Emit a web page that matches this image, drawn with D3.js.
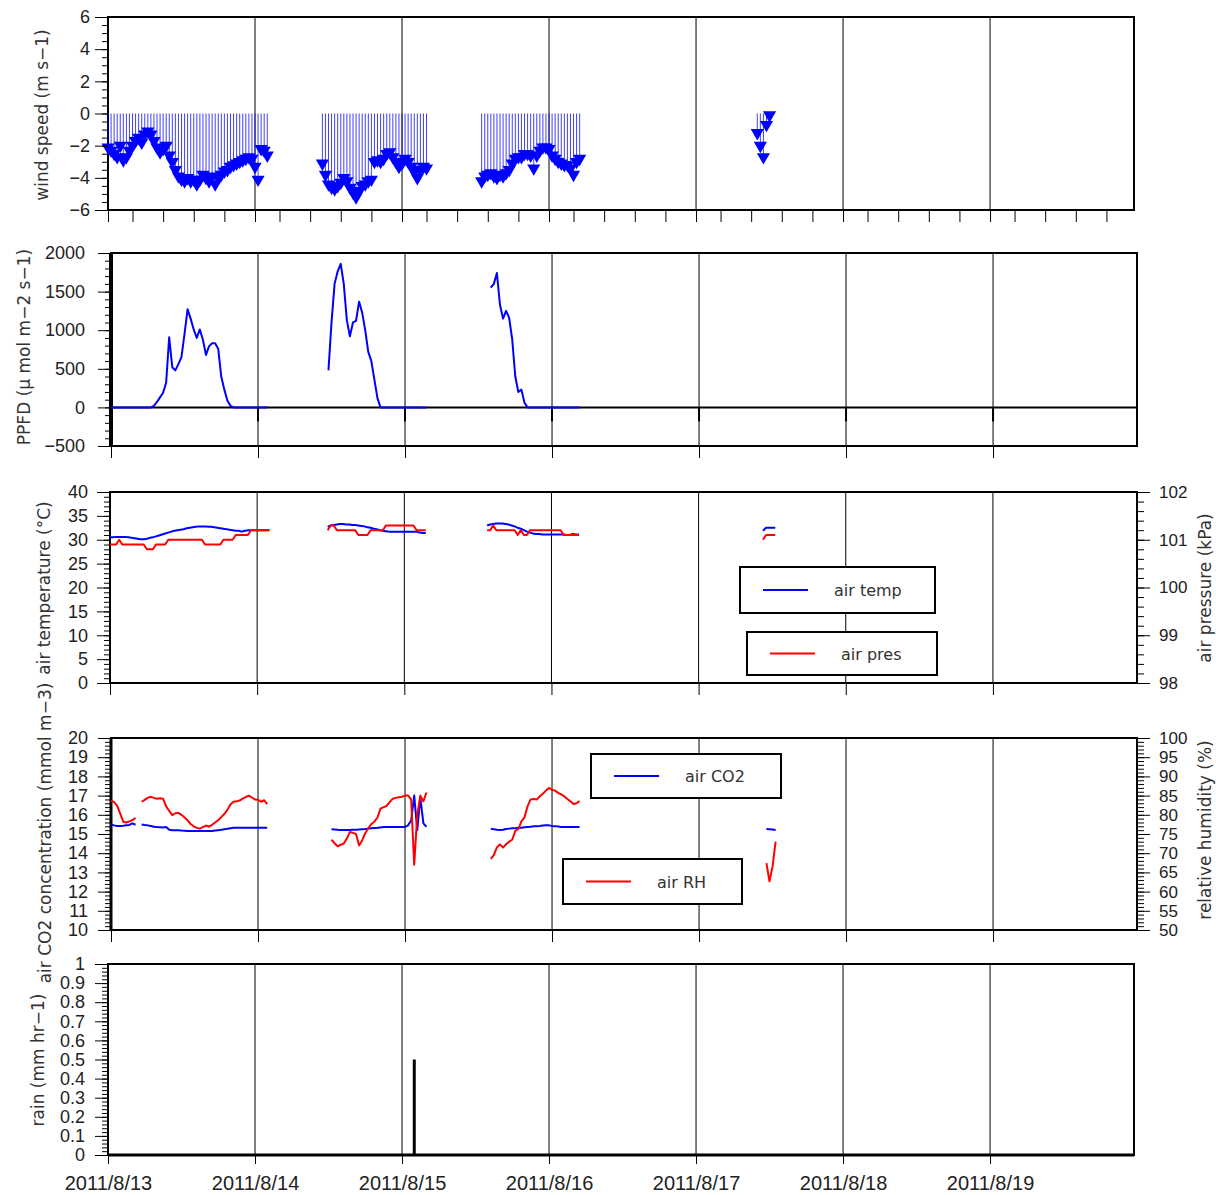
<!DOCTYPE html>
<html lang="en">
<head>
<meta charset="UTF-8">
<title>Weather station 2011/8/13 - 2011/8/19</title>
<script src="https://d3js.org/d3.v7.min.js"></script>
<style>
  body { margin: 0; background: #fff; }
  svg { display: block; font-family: 'DejaVu Sans', sans-serif; }
  .tick text { fill: #222; font-family: 'Liberation Sans', Arial, sans-serif; font-size: 18px; }
  .right-axis .tick text { font-size: 17px; }
  .date-axis .tick text { font-size: 20px; }
  .axis-title { fill: #333; font-size: 17px; }
  .legend text { fill: #333; font-size: 16px; }
</style>
</head>
<body>
<svg id="chart" width="1216" height="1195"></svg>
<script>
// ========================================================================
// Data - 30 minute records, one array per recording block
// ========================================================================
const SEG_START = ["2011-08-13T00:00", "2011-08-14T11:00", "2011-08-15T13:00", "2011-08-17T10:00"];
const STEP_MINUTES = 30;

const windSpeed = [
    [-2.1,-2.3,-2.5,-2.7,-2.0,-2.9,-2.7,-2.3,-2.0,-1.7, -1.5,-1.8,-1.3,-1.1,-1.3,-1.7,-2.1,-2.4,-2.2,-2.0,
     -2.6,-3.0,-3.5,-3.9,-4.1,-4.2,-4.0,-4.2,-4.1,-4.4, -4.1,-3.8,-4.0,-4.2,-3.9,-4.4,-4.0,-3.8,-3.6,-3.5,
     -3.3,-3.2,-3.1,-3.0,-2.9,-2.8,-2.7,-2.8,-3.3,-4.1, -2.2,-2.3,-2.6],
    [-3.1,-3.8,-4.4,-4.6,-4.7,-4.5,-4.3,-4.0,-4.2,-4.6, -4.9,-5.2,-4.8,-4.5,-4.4,-4.2,-4.1,-3.0,-2.9,-3.0,
     -2.8,-2.5,-2.4,-2.7,-3.0,-3.3,-3.1,-2.8,-3.0,-3.3, -3.6,-4.0,-3.5,-3.3,-3.4],
    [-4.2,-3.9,-3.8,-3.7,-3.9,-4.0,-3.8,-3.9,-3.7,-3.5, -3.1,-2.8,-2.7,-2.7,-2.5,-2.5,-2.6,-3.4,-2.6,-2.3,
     -2.1,-2.1,-2.2,-2.6,-2.8,-3.0,-3.1,-3.2,-3.2,-3.4, -3.8,-3.0,-2.8],
    [-1.2,-2.0,-2.7,-0.7,-0.1]
];

const ppfd = [
    [0,0,0,0,0,0,0,0,0,0, 0,0,0,0,20,70,130,190,320,910, 520,480,560,650,950,1270,1150,1010,900,1010,
     880,680,790,830,830,760,400,230,90,20, 0,0,0,0,0,0,0,0,0,0, 0,0],
    [null,480,1100,1600,1760,1860,1600,1130,920,1100, 1120,1370,1230,1000,720,600,360,120,0,0,
     0,0,0,0,0,0,0,0,0,0, 0,0,0,0],
    [null,null,1550,1600,1740,1330,1150,1250,1160,880, 400,200,230,60,0,0,0,0,0,0,
     0,0,0,0,0,0,0,0,0,0, 0,0],
    []
];

const airTemp = [
    [30.5,30.5,30.6,30.6,30.6,30.6,30.5,30.4,30.3,30.2, 30.1,30.1,30.2,30.4,30.5,30.7,30.9,31.1,31.3,31.5,
     31.7,31.9,32.0,32.1,32.2,32.4,32.5,32.6,32.7,32.8, 32.8,32.8,32.7,32.7,32.6,32.5,32.4,32.3,32.2,32.1,
     32.0,31.9,31.9,31.7,31.9,32.0,32.0,32.0,32.0,32.0, 32.0,32.0,32.0],
    [null,32.7,33.0,33.1,33.2,33.3,33.3,33.2,33.2,33.1, 33.1,33.0,32.9,32.8,32.6,32.5,32.3,32.2,32.0,31.9,
     31.8,31.7,31.7,31.7,31.7,31.7,31.7,31.7,31.7,31.7, 31.7,31.5,31.4,31.4],
    [null,33.0,33.2,33.3,33.4,33.4,33.4,33.3,33.2,33.0, 32.8,32.5,32.3,32.0,31.7,31.5,31.3,31.2,31.2,31.1,
     31.1,31.1,31.1,31.1,31.1,31.1,31.1,31.0,31.0,31.2, 31.1,31.1],
    [null,31.9,32.5,32.5,32.5,32.5]
];

const airPres = [
    [100.9,100.9,100.9,101.0,100.9,100.9,100.9,100.9,100.9,100.9, 100.9,100.9,100.8,100.8,100.8,100.9,100.9,100.9,100.9,101.0,
     101.0,101.0,101.0,101.0,101.0,101.0,101.0,101.0,101.0,101.0, 101.0,100.9,100.9,100.9,100.9,100.9,100.9,101.0,101.0,101.0,
     101.0,101.1,101.1,101.1,101.1,101.1,101.2,101.2,101.2,101.2, 101.2,101.2,101.2],
    [null,101.2,101.3,101.3,101.2,101.2,101.2,101.2,101.2,101.2, 101.2,101.1,101.1,101.1,101.1,101.2,101.2,101.2,101.2,101.2,
     101.3,101.3,101.3,101.3,101.3,101.3,101.3,101.3,101.3,101.3, 101.2,101.2,101.2,101.2],
    [null,101.2,101.2,101.3,101.2,101.2,101.2,101.2,101.2,101.2, 101.2,101.1,101.2,101.1,101.1,101.2,101.2,101.2,101.2,101.2,
     101.2,101.2,101.2,101.2,101.2,101.2,101.1,101.1,101.1,101.1, 101.1,101.1],
    [null,101.0,101.1,101.1,101.1,101.1]
];

const airCO2 = [
    [15.5,15.45,15.42,15.42,15.43,15.45,15.47,15.55,15.48,null, 15.5,15.47,15.45,15.42,15.38,15.36,15.35,15.34,15.36,15.22,
     15.2,15.2,15.2,15.18,15.17,15.16,15.16,15.16,15.16,15.16, 15.16,15.16,15.16,15.16,15.18,15.2,15.22,15.25,15.27,15.3,
     15.32,15.32,15.32,15.32,15.32,15.32,15.32,15.32,15.32,15.32, 15.32,15.32],
    [null,null,15.25,15.24,15.22,15.21,15.21,15.21,15.21,15.22, 15.22,15.24,15.25,15.26,15.28,15.3,15.31,15.32,15.34,15.36,
     15.36,15.36,15.36,15.36,15.36,15.36,15.37,15.45,15.7,17.0, 15.2,16.9,15.55,15.38],
    [null,null,15.27,15.25,15.22,15.21,15.22,15.26,15.28,15.3, 15.3,15.32,15.33,15.35,15.37,15.38,15.4,15.41,15.42,15.44,
     15.45,15.45,15.42,15.41,15.39,15.37,15.36,15.36,15.36,15.36, 15.36,15.36],
    [null,null,15.26,15.25,15.23,15.21]
];

const airRH = [
    [83.7,83.3,82.4,80.3,78.2,78.0,78.3,78.6,79.2,null, 83.4,83.9,84.4,84.7,84.4,84.2,84.3,84.2,82.2,81.0,
     79.9,80.4,80.5,80.0,79.3,78.6,77.6,77.0,76.6,76.4, 76.8,77.2,76.9,77.4,78.0,78.6,79.4,80.2,81.3,82.7,
     83.4,83.5,83.7,84.2,84.6,85.0,84.5,84.0,83.9,83.4, 83.8,82.8],
    [null,null,73.5,72.6,71.8,72.2,72.5,73.8,75.5,75.3, 75.0,72.0,73.3,75.2,76.5,77.6,78.2,79.3,81.6,82.0,
     82.3,83.3,84.2,84.4,84.6,84.7,85.0,85.0,84.0,67.0, 80.0,85.0,83.5,85.8],
    [null,null,68.5,69.5,71.5,72.3,71.5,72.3,73.0,73.5, 75.8,76.3,78.3,79.3,82.2,84.0,84.1,84.0,84.8,85.5,
     86.3,87.0,86.5,86.3,85.7,85.3,84.8,84.1,83.5,82.8, 83.0,83.6],
    [null,null,67.4,62.7,66.5,73.0]
];

const rainTimes = ["2011-08-15T02:00"];
const rainValues = [0.5];

// ========================================================================
// Tick labels
// ========================================================================
const windTicks = [-6, -4, -2, 0, 2, 4, 6];
const ppfdTicks = [-500, 0, 500, 1000, 1500, 2000];
const tempTicks = [0, 5, 10, 15, 20, 25, 30, 35, 40];
const presTicks = [98, 99, 100, 101, 102];
const co2Ticks = [10, 11, 12, 13, 14, 15, 16, 17, 18, 19, 20];
const rhTicks = [50, 55, 60, 65, 70, 75, 80, 85, 90, 95, 100];
const rainTicks = [0, 0.1, 0.2, 0.3, 0.4, 0.5, 0.6, 0.7, 0.8, 0.9, 1];
const dateTicks = ["2011-08-13", "2011-08-14", "2011-08-15", "2011-08-16", "2011-08-17", "2011-08-18", "2011-08-19"];

// ========================================================================
// Layout
// ========================================================================
const BOX = {
    wind: { left: 108, right: 1134, top: 17, bottom: 210 },
    ppfd: { left: 111, right: 1137, top: 253, bottom: 446 },
    temp: { left: 110, right: 1137, top: 492, bottom: 683 },
    co2:  { left: 111, right: 1137, top: 738, bottom: 930 },
    rain: { left: 108, right: 1134, top: 964, bottom: 1155 }
};
const BLUE = "#0000ff";
const RED = "#ff0000";

// ========================================================================
// Helpers
// ========================================================================
const parseTime = d3.timeParse("%Y-%m-%dT%H:%M");
const parseDay = d3.timeParse("%Y-%m-%d");
const X_DOMAIN = [parseTime("2011-08-13T00:00"), parseTime("2011-08-19T23:30")];
const DAYS = dateTicks.map(parseDay);
const fmtNum = d3.format("~g");
const fmtDate = d3.timeFormat("%Y/%-m/%-d");

const toSegments = (segs) => segs.map((vals, s) => {
    const t0 = parseTime(SEG_START[s]);
    return vals.map((v, i) => ({ t: d3.timeMinute.offset(t0, i * STEP_MINUTES), v }));
});

const svg = d3.select("#chart");

const makePanel = (box) => {
    const x = d3.scaleTime().domain(X_DOMAIN).range([box.left, box.right]);
    const g = svg.append("g");
    return { g, x, box };
};

const drawGrid = (p) => {
    p.g.append("g").selectAll("line").data(DAYS.slice(1)).join("line")
        .attr("x1", d => p.x(d)).attr("x2", d => p.x(d))
        .attr("y1", p.box.top).attr("y2", p.box.bottom)
        .attr("stroke", "#000").attr("stroke-width", 1);
};

const drawFrame = (p) => {
    p.g.append("rect")
        .attr("x", p.box.left).attr("y", p.box.top)
        .attr("width", p.box.right - p.box.left).attr("height", p.box.bottom - p.box.top)
        .attr("fill", "none").attr("stroke", "#000").attr("stroke-width", 2);
};

const cleanAxis = (sel) => {
    sel.select(".domain").remove();
    sel.selectAll(".tick line").attr("stroke", "#000");
};

const drawYAxis = (p, scale, side, majors, minorStep, padding) => {
    const axisFn = side === "left" ? d3.axisLeft : d3.axisRight;
    const xPos = side === "left" ? p.box.left : p.box.right;
    const [lo, hi] = scale.domain();
    const minors = d3.range(Math.round((hi - lo) / minorStep) + 1).map(i => lo + i * minorStep);
    p.g.append("g").attr("transform", `translate(${xPos},0)`)
        .call(axisFn(scale).tickValues(minors).tickSize(side === "left" ? 6 : 7).tickFormat(""))
        .call(cleanAxis);
    p.g.append("g").attr("class", side === "right" ? "right-axis" : null)
        .attr("transform", `translate(${xPos},0)`)
        .call(axisFn(scale).tickValues(majors).tickSize(13).tickPadding(padding).tickFormat(fmtNum))
        .call(cleanAxis);
};

const drawXTicks = (p, values, size, withLabels) => {
    const axis = d3.axisBottom(p.x).tickValues(values).tickSize(size)
        .tickFormat(withLabels ? fmtDate : "").tickPadding(12);
    p.g.append("g").attr("class", withLabels ? "date-axis" : null)
        .attr("transform", `translate(0,${p.box.bottom})`)
        .call(axis).call(cleanAxis);
};

const drawTitle = (x, y, text) => {
    svg.append("text").attr("class", "axis-title")
        .attr("transform", `translate(${x},${y}) rotate(-90)`)
        .attr("text-anchor", "middle").text(text);
};

const drawLines = (p, y, segs, color) => {
    const line = d3.line().defined(d => d.v != null).x(d => p.x(d.t)).y(d => y(d.v));
    p.g.append("g").selectAll("path").data(toSegments(segs)).join("path")
        .attr("d", line).attr("fill", "none")
        .attr("stroke", color).attr("stroke-width", 2).attr("stroke-linejoin", "round");
};

const drawLegend = (box, color, label) => {
    const g = svg.append("g").attr("class", "legend");
    g.append("rect").attr("x", box.x).attr("y", box.y).attr("width", box.w).attr("height", box.h)
        .attr("fill", "#fff").attr("stroke", "#000").attr("stroke-width", 2);
    const cy = box.y + box.h / 2;
    g.append("line").attr("x1", box.x + 23).attr("x2", box.x + 68).attr("y1", cy).attr("y2", cy)
        .attr("stroke", color).attr("stroke-width", 2);
    g.append("text").attr("x", box.x + 94).attr("y", cy + 6).text(label);
};

// ========================================================================
// Panel 1 - wind speed
// ========================================================================
const pWind = makePanel(BOX.wind);
const yWind = d3.scaleLinear().domain([-6, 6]).range([BOX.wind.bottom, BOX.wind.top]);
drawGrid(pWind);
drawFrame(pWind);
const windPts = toSegments(windSpeed).flat();
pWind.g.append("g").selectAll("line").data(windPts).join("line")
    .attr("x1", d => pWind.x(d.t)).attr("x2", d => pWind.x(d.t))
    .attr("y1", yWind(0)).attr("y2", d => yWind(d.v))
    .attr("stroke", BLUE).attr("stroke-width", 1).attr("stroke-opacity", 0.75);
pWind.g.append("g").selectAll("path").data(windPts).join("path")
    .attr("d", d3.symbol(d3.symbolTriangle, 75))
    .attr("transform", d => `translate(${pWind.x(d.t)},${yWind(d.v)}) rotate(180)`)
    .attr("fill", BLUE);
drawYAxis(pWind, yWind, "left", windTicks, 0.5, 5);
const windXTicks = d3.range(35).map(i => d3.timeHour.offset(X_DOMAIN[0], i * 24 / 5));
drawXTicks(pWind, windXTicks, 12, false);
drawTitle(48, 115, "wind speed (m s\u22121)");

// ========================================================================
// Panel 2 - PPFD
// ========================================================================
const pPpfd = makePanel(BOX.ppfd);
const yPpfd = d3.scaleLinear().domain([-500, 2000]).range([BOX.ppfd.bottom, BOX.ppfd.top]);
drawGrid(pPpfd);
drawFrame(pPpfd);
pPpfd.g.append("line").attr("x1", BOX.ppfd.left).attr("x2", BOX.ppfd.right)
    .attr("y1", yPpfd(0)).attr("y2", yPpfd(0)).attr("stroke", "#000").attr("stroke-width", 2);
pPpfd.g.append("g").selectAll("line").data(DAYS.slice(1)).join("line")
    .attr("x1", d => pPpfd.x(d)).attr("x2", d => pPpfd.x(d))
    .attr("y1", yPpfd(0)).attr("y2", yPpfd(0) + 14)
    .attr("stroke", "#000").attr("stroke-width", 2);
pPpfd.g.append("line").attr("x1", BOX.ppfd.left).attr("x2", BOX.ppfd.left)
    .attr("y1", BOX.ppfd.top).attr("y2", BOX.ppfd.bottom).attr("stroke", "#000").attr("stroke-width", 4);
drawLines(pPpfd, yPpfd, ppfd, BLUE);
drawYAxis(pPpfd, yPpfd, "left", ppfdTicks, 100, 13);
drawXTicks(pPpfd, DAYS, 12, false);
drawTitle(30, 347, "PPFD (\u03bc mol m\u22122 s\u22121)");

// ========================================================================
// Panel 3 - air temperature / air pressure
// ========================================================================
const pTemp = makePanel(BOX.temp);
const yTemp = d3.scaleLinear().domain([0, 40]).range([BOX.temp.bottom, BOX.temp.top]);
const yPres = d3.scaleLinear().domain([98, 102]).range([BOX.temp.bottom, BOX.temp.top]);
drawGrid(pTemp);
drawFrame(pTemp);
drawLines(pTemp, yTemp, airTemp, BLUE);
drawLines(pTemp, yPres, airPres, RED);
drawYAxis(pTemp, yTemp, "left", tempTicks, 1, 9);
drawYAxis(pTemp, yPres, "right", presTicks, 0.2, 9);
drawXTicks(pTemp, DAYS, 12, false);
drawTitle(50, 588, "air temperature (\u00b0C)");
drawTitle(1211, 588, "air pressure (kPa)");
drawLegend({ x: 740, y: 567, w: 195, h: 46 }, BLUE, "air temp");
drawLegend({ x: 747, y: 632, w: 190, h: 43 }, RED, "air pres");

// ========================================================================
// Panel 4 - air CO2 / relative humidity
// ========================================================================
const pCo2 = makePanel(BOX.co2);
const yCo2 = d3.scaleLinear().domain([10, 20]).range([BOX.co2.bottom, BOX.co2.top]);
const yRh = d3.scaleLinear().domain([50, 100]).range([BOX.co2.bottom, BOX.co2.top]);
drawGrid(pCo2);
drawFrame(pCo2);
pCo2.g.append("line").attr("x1", BOX.co2.left).attr("x2", BOX.co2.left)
    .attr("y1", BOX.co2.top).attr("y2", BOX.co2.bottom).attr("stroke", "#000").attr("stroke-width", 3);
drawLines(pCo2, yCo2, airCO2, BLUE);
drawLines(pCo2, yRh, airRH, RED);
drawYAxis(pCo2, yCo2, "left", co2Ticks, 0.2, 10);
drawYAxis(pCo2, yRh, "right", rhTicks, 1, 9);
drawXTicks(pCo2, DAYS, 12, false);
drawTitle(51, 833, "air CO2 concentration (mmol m\u22123)");
drawTitle(1211, 830, "relative humidity (%)");
drawLegend({ x: 591, y: 754, w: 190, h: 44 }, BLUE, "air CO2");
drawLegend({ x: 563, y: 859, w: 179, h: 45 }, RED, "air RH");

// ========================================================================
// Panel 5 - rain
// ========================================================================
const pRain = makePanel(BOX.rain);
const yRain = d3.scaleLinear().domain([0, 1]).range([BOX.rain.bottom, BOX.rain.top]);
drawGrid(pRain);
drawFrame(pRain);
pRain.g.append("line").attr("x1", BOX.rain.left).attr("x2", BOX.rain.right)
    .attr("y1", BOX.rain.bottom).attr("y2", BOX.rain.bottom).attr("stroke", "#000").attr("stroke-width", 3);
pRain.g.append("g").selectAll("rect").data(rainTimes.map((t, i) => ({ t: parseTime(t), v: rainValues[i] }))).join("rect")
    .attr("x", d => pRain.x(d.t) - 1.5).attr("width", 3)
    .attr("y", d => yRain(d.v)).attr("height", d => yRain(0) - yRain(d.v))
    .attr("fill", "#000");
drawYAxis(pRain, yRain, "left", rainTicks, 0.02, 10);
drawXTicks(pRain, DAYS, 9, true);
drawTitle(44, 1060, "rain (mm hr\u22121)");
</script>
</body>
</html>
